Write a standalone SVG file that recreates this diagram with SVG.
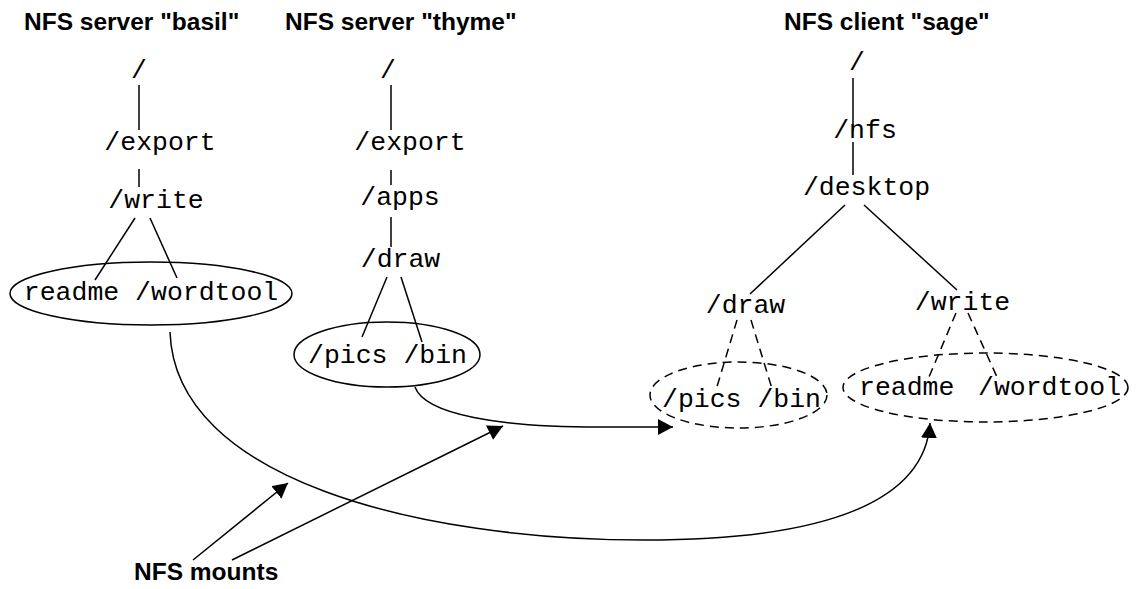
<svg xmlns="http://www.w3.org/2000/svg" width="1136" height="589" viewBox="0 0 1136 589">
<style>
.t{font-family:"Liberation Sans",Arial,sans-serif;font-weight:bold;font-size:24.5px;fill:#000}
.m{font-family:"Liberation Mono","Courier New",monospace;font-size:26.5px;fill:#000;text-anchor:middle}
.ln{stroke:#000;stroke-width:1.5;fill:none}
.d{stroke:#000;stroke-width:1.5;fill:none;stroke-dasharray:9 6}
</style>
<defs>
<marker id="ah" markerUnits="userSpaceOnUse" markerWidth="16" markerHeight="18" refX="15" refY="8" orient="auto">
<path d="M0,0 L15,8 L0,16 z" fill="#000"/>
</marker>
</defs>
<rect width="1136" height="589" fill="#fff"/>
<g id="titles">
<text class="t" x="24" y="30">NFS server "basil"</text>
<text class="t" x="285" y="30">NFS server "thyme"</text>
<text class="t" x="784" y="30">NFS client "sage"</text>
</g>
<g id="basil">
<text class="m" x="139" y="78">/</text>
<text class="m" x="160" y="150">/export</text>
<text class="m" x="156" y="208">/write</text>
<line class="ln" x1="139" y1="85" x2="139" y2="130"/>
<line class="ln" x1="139" y1="169" x2="139" y2="187"/>
<line class="ln" x1="135" y1="218" x2="95" y2="280"/>
<line class="ln" x1="150" y1="218" x2="177" y2="278"/>
<ellipse class="ln" cx="151" cy="293.5" rx="141" ry="31.5"/>
<text class="m" x="151" y="300">readme /wordtool</text>
</g>
<g id="thyme">
<text class="m" x="388" y="78">/</text>
<text class="m" x="410" y="150">/export</text>
<text class="m" x="400" y="205">/apps</text>
<text class="m" x="400.5" y="267">/draw</text>
<line class="ln" x1="391" y1="85" x2="391" y2="130"/>
<line class="ln" x1="391" y1="170" x2="391" y2="185"/>
<line class="ln" x1="391" y1="217" x2="391" y2="247"/>
<line class="ln" x1="387" y1="277" x2="362" y2="337"/>
<line class="ln" x1="401" y1="277" x2="422" y2="342"/>
<ellipse class="ln" cx="387" cy="354.5" rx="93" ry="32.5"/>
<text class="m" x="387.5" y="363">/pics /bin</text>
</g>
<g id="sage">
<text class="m" x="857" y="70">/</text>
<text class="m" x="865" y="138">/nfs</text>
<text class="m" x="866.5" y="195">/desktop</text>
<text class="m" x="745.5" y="313">/draw</text>
<text class="m" x="962.5" y="310">/write</text>
<line class="ln" x1="853" y1="78" x2="853" y2="131"/>
<line class="ln" x1="853" y1="142" x2="853" y2="175"/>
<line class="ln" x1="845" y1="205" x2="750" y2="294"/>
<line class="ln" x1="864" y1="205" x2="957" y2="290"/>
<line class="d" x1="737" y1="320" x2="716" y2="390"/>
<line class="d" x1="751" y1="320" x2="773" y2="392"/>
<line class="d" x1="956" y1="313" x2="929" y2="377"/>
<line class="d" x1="968" y1="313" x2="997" y2="377"/>
<ellipse class="d" cx="738.5" cy="395" rx="88.5" ry="33"/>
<text class="m" x="741.5" y="407">/pics /bin</text>
<ellipse class="d" cx="985.5" cy="387.5" rx="142.5" ry="34.5"/>
<text class="m" y="395" style="text-anchor:start"><tspan x="859">readme</tspan> <tspan x="978">/wordtool</tspan></text>
</g>
<g id="connectors">
<path class="ln" d="M415,387 C425,415 500,427 600,427 L673,427" marker-end="url(#ah)"/>
<path class="ln" d="M170,332 C175,480 420,540 645,540 C830,540 925,500 930,423" marker-end="url(#ah)"/>
<line class="ln" x1="193" y1="560" x2="288" y2="483" marker-end="url(#ah)"/>
<line class="ln" x1="232" y1="560" x2="503" y2="426" marker-end="url(#ah)"/>
</g>
<g id="label">
<text class="t" x="134" y="580">NFS mounts</text>
</g>
</svg>
